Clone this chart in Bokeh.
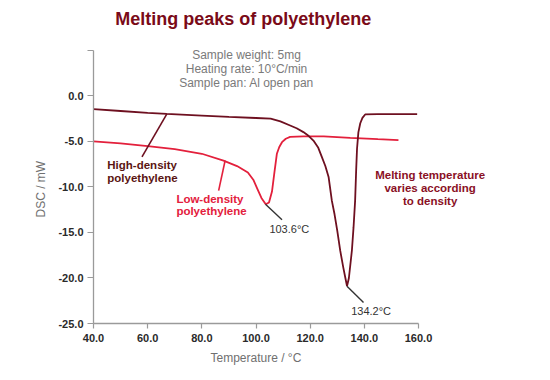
from bokeh.plotting import figure
from bokeh.models import Label, FixedTicker, Title
from bokeh.embed import file_html
from bokeh.resources import INLINE

# ---- data ----
hdpe_temp = [40, 50, 60, 67, 80, 90, 100, 105.4, 109, 112.6, 115, 117.5, 119.5, 121.2, 123, 124.3, 125.6,
             126.8, 128.0, 129.0, 130.0, 131.1, 132.2, 133.0, 133.6, 134.3, 135.4, 136.0, 136.6, 137.0,
             137.3, 137.8, 138.5, 139.3, 140.3, 145, 159.5]
hdpe_dsc = [-1.45, -1.65, -1.85, -1.96, -2.15, -2.3, -2.42, -2.5, -2.8, -3.24, -3.55, -3.97, -4.4, -4.9,
            -5.7, -6.7, -7.7, -8.9, -11.5, -13.0, -14.8, -17.0, -18.8, -20.0, -20.9, -20.0, -17.0, -14.5,
            -11.5, -8.0, -5.8, -4.0, -3.0, -2.4, -2.03, -2.0, -2.0]

ldpe_temp = [40, 50, 60, 70, 80, 88, 93, 97, 99, 100.5, 102, 103.6, 104.8, 105.9, 106.8, 107.7, 108.6,
             109.6, 111, 112.6, 117.5, 125, 134.8, 145, 152.6]
ldpe_dsc = [-5.0, -5.2, -5.5, -5.85, -6.35, -7.1, -7.7, -8.4, -9.2, -10.2, -11.2, -11.9, -11.7, -10.5,
            -8.4, -6.35, -5.6, -5.08, -4.7, -4.5, -4.45, -4.45, -4.6, -4.75, -4.85]

peak_labels = ["103.6°C", "134.2°C"]
x_ticks = [40, 60, 80, 100, 120, 140, 160]
y_ticks = [-25, -20, -15, -10, -5, 0, 5]

title_text = "Melting peaks of polyethylene"
x_title = "Temperature / °C"
y_title = "DSC / mW"
header_lines = ["Sample weight: 5mg", "Heating rate: 10°C/min", "Sample pan: Al open pan"]
hdpe_label = ["High-density", "polyethylene"]
ldpe_label = ["Low-density", "polyethylene"]
note_lines = ["Melting temperature", "varies according", "to density"]

# ---- styling ----
FONT = "Liberation Sans"
HDPE_COL = "#6e1020"
LDPE_COL = "#e3203c"
TITLE_COL = "#7a0a18"
GRAY = "#9a9a9a"

# frame spans the whole upper/right area so that texts are not clipped;
# the axes themselves are bounded to the reference's 40-160 / -25-5 extent
p = figure(width=550, height=380, x_range=(40, 207.26), y_range=(-25, 10.49),
           output_backend="svg", toolbar_location=None,
           min_border_left=93, min_border_right=4, min_border_top=0, min_border_bottom=57)
p.outline_line_color = None
p.grid.visible = False
p.background_fill_color = "white"
p.border_fill_color = "white"

for ax in (p.xaxis[0], p.yaxis[0]):
    ax.axis_line_color = GRAY
    ax.axis_line_width = 1.3
    ax.major_tick_line_color = GRAY
    ax.major_tick_line_width = 1.2
    ax.minor_tick_line_color = None
    ax.major_tick_in = 0
    ax.major_label_text_font = FONT
    ax.major_label_text_font_size = "11px"
    ax.major_label_text_font_style = "bold"
    ax.major_label_text_color = "#2a2a2a"

p.xaxis.bounds = (40, 160)
p.xaxis.ticker = FixedTicker(ticks=x_ticks)
p.xaxis.major_label_overrides = {t: f"{t:.1f}" for t in x_ticks}
p.xaxis.major_tick_out = 5
p.xaxis.major_label_standoff = 5

p.yaxis.bounds = (-25, 5)
p.yaxis.ticker = FixedTicker(ticks=y_ticks)
ov = {t: f"{t:.1f}" for t in y_ticks}
ov[5] = ""
p.yaxis.major_label_overrides = ov
p.yaxis.major_tick_out = 6
p.yaxis.major_label_standoff = 4

# axis titles placed along the bounded axes (not the wider frame)
p.add_layout(Title(text=x_title, align="left", offset=117, standoff=9,
                   text_font=FONT, text_font_size="12px", text_font_style="normal",
                   text_color="#707070"), "below")
p.add_layout(Title(text=y_title, align="left", offset=106, standoff=16,
                   text_font=FONT, text_font_size="12px", text_font_style="normal",
                   text_color="#707070"), "left")

# curves
p.line(ldpe_temp, ldpe_dsc, line_color=LDPE_COL, line_width=1.8)
p.line(hdpe_temp, hdpe_dsc, line_color=HDPE_COL, line_width=1.8)

# leader lines
p.segment(x0=[67.1], y0=[-1.96], x1=[57.9], y1=[-6.7], line_color=HDPE_COL, line_width=1.6)
p.segment(x0=[88.6], y0=[-7.09], x1=[86.2], y1=[-10.4], line_color=LDPE_COL, line_width=1.6)
p.segment(x0=[103.5, 133.6], y0=[-11.9, -20.9], x1=[109.6, 139.7], y1=[-13.6, -22.7],
          line_color="#333333", line_width=1.4)

def lab(x, y, text, size, color, style="bold", align="center", baseline="middle"):
    p.add_layout(Label(x=x, y=y, text=text, text_font=FONT, text_font_size=size,
                       text_color=color, text_font_style=style, text_align=align,
                       text_baseline=baseline))

lab(95.3, 8.46, title_text, "18px", TITLE_COL, baseline="alphabetic")
for i, t in enumerate(header_lines):
    lab(96.5, 4.45 - 1.5 * i, t, "12px", "#7a7a7a", style="normal")
for i, t in enumerate(hdpe_label):
    lab(45.1, -7.6 - 1.45 * i, t, "11.5px", "#5a1512", align="left")
for i, t in enumerate(ldpe_label):
    lab(70.6, -11.3 - 1.36 * i, t, "11.5px", LDPE_COL, align="left")
for i, t in enumerate(note_lines):
    lab(164.3, -8.63 - 1.48 * i, t, "11.5px", "#8a1025")
lab(112.3, -14.6, peak_labels[0], "11px", "#333333", style="normal")
lab(142.5, -23.6, peak_labels[1], "11px", "#333333", style="normal")

open("out.html", "w").write(file_html(p, INLINE))
